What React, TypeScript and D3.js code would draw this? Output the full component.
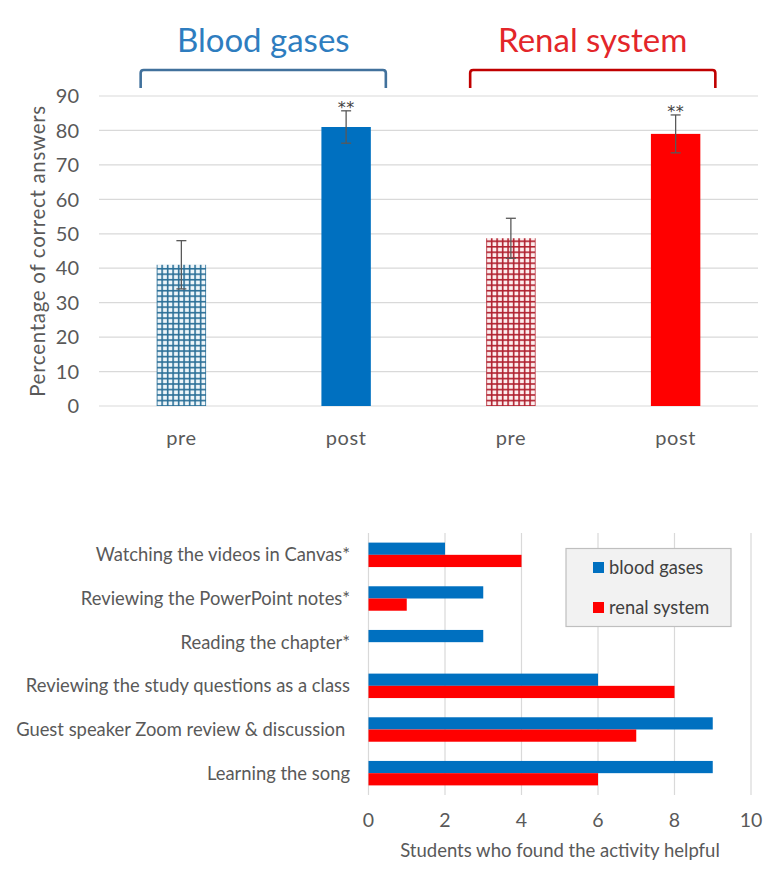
import React from 'react';
import * as d3 from 'd3';

// top chart: pre/post scores
const groups = ['Blood gases', 'Renal system'];
const phases = ['pre', 'post', 'pre', 'post'];
const scoreMeans = [41, 81, 48.7, 79];
const scoreErrors = [7, 4.7, 5.8, 5.5];
const significant = [false, true, false, true];
const yTicks = [0, 10, 20, 30, 40, 50, 60, 70, 80, 90];

// bottom chart: helpful activities
const activities = [
  'Watching the videos in Canvas*',
  'Reviewing the PowerPoint notes*',
  'Reading the chapter*',
  'Reviewing the study questions as a class',
  'Guest speaker Zoom review & discussion ',
  'Learning the song',
];
const seriesNames = ['blood gases', 'renal system'];
const bloodCounts = [2, 3, 3, 6, 9, 9];
const renalCounts = [4, 1, 0, 8, 7, 6];
const xTicks = [0, 2, 4, 6, 8, 10];

const FONT = 'Lato, "Open Sans", sans-serif';
const GRAY = '#595959';
const GRID = '#d9d9d9';
const BLUE = '#0070c0';
const RED = '#ff0000';

const TopChart: React.FC = () => {
  const ids = phases.map((_, i) => String(i));
  const x = d3.scaleBand<string>().domain(ids).range([99, 758]).paddingInner(0.7).paddingOuter(0.35);
  const y = d3.scaleLinear().domain([0, 90]).range([406, 96]);
  const bw = x.bandwidth();
  const cell = bw / 9;
  const fills = ['url(#gridBlue)', BLUE, 'url(#gridRed)', RED];
  const groupColors = ['#2e7dbf', '#e3262a'];
  const bracketColors = ['#41719c', '#c00000'];

  return (
    <g>
      <defs>
        {[
          { id: 'gridBlue', color: '#2a6f97', bg: '#eef6fa', i: 0 },
          { id: 'gridRed', color: '#b0202e', bg: '#fdeeee', i: 2 },
        ].map((p) => (
          <pattern
            key={p.id}
            id={p.id}
            patternUnits="userSpaceOnUse"
            width={cell}
            height={cell}
            x={(x(ids[p.i]) ?? 0) - 0.8}
            y={y(0) - 0.8}
          >
            <rect width={cell} height={cell} fill={p.bg} />
            <rect width={1.6} height={cell} fill={p.color} />
            <rect width={cell} height={1.6} fill={p.color} />
          </pattern>
        ))}
      </defs>

      {yTicks.map((t) => (
        <g key={t}>
          <line x1={99} x2={758} y1={y(t)} y2={y(t)} stroke={GRID} strokeWidth={1.2} />
          <text x={79} y={y(t)} dy="0.36em" textAnchor="end" fontSize={20} fill={GRAY}>
            {t}
          </text>
        </g>
      ))}

      <text
        transform={`translate(45,${(y(0) + y(90)) / 2}) rotate(-90)`}
        textAnchor="middle"
        fontSize={20.5}
        fill={GRAY}
        letterSpacing={0.7}
      >
        Percentage of correct answers
      </text>

      {scoreMeans.map((v, i) => {
        const x0 = x(ids[i]) ?? 0;
        const cx = x0 + bw / 2;
        const top = y(v + scoreErrors[i]);
        const bot = y(v - scoreErrors[i]);
        return (
          <g key={i}>
            <rect x={x0} y={y(v)} width={bw} height={y(0) - y(v)} fill={fills[i]} />
            <line x1={cx} x2={cx} y1={top} y2={bot} stroke={GRAY} strokeWidth={1.3} />
            <line x1={cx - 5} x2={cx + 5} y1={top} y2={top} stroke={GRAY} strokeWidth={1.3} />
            <line x1={cx - 5} x2={cx + 5} y1={bot} y2={bot} stroke={GRAY} strokeWidth={1.3} />
            {significant[i] && (
              <text
                x={cx}
                y={top + 2}
                textAnchor="middle"
                fontSize={16}
                fontFamily='"DejaVu Sans", sans-serif'
                letterSpacing={0.5}
                fill="#404040"
              >
                **
              </text>
            )}
            <text x={cx} y={445} textAnchor="middle" fontSize={20} fill={GRAY} letterSpacing={0.6}>
              {phases[i]}
            </text>
          </g>
        );
      })}

      {groups.map((g, gi) => {
        const left = (x(ids[gi * 2]) ?? 0) - 16;
        const right = (x(ids[gi * 2 + 1]) ?? 0) + bw + 15;
        const mid = (left + right) / 2;
        return (
          <g key={g}>
            <path
              d={`M${left},88 L${left},73 Q${left},70 ${left + 3},70 L${right - 3},70 Q${right},70 ${right},73 L${right},88`}
              fill="none"
              stroke={bracketColors[gi]}
              strokeWidth={2.6}
            />
            <text x={mid} y={52} textAnchor="middle" fontSize={33} fill={groupColors[gi]}>
              {g}
            </text>
          </g>
        );
      })}
    </g>
  );
};

const BottomChart: React.FC = () => {
  const x = d3.scaleLinear().domain([0, 10]).range([368.5, 751]);
  const y = d3.scaleBand<string>().domain(activities).range([533, 795]).paddingInner(0.44).paddingOuter(0.22);
  const sub = d3.scaleBand<string>().domain(seriesNames).range([0, y.bandwidth()]);
  const series = [bloodCounts, renalCounts];
  const colors = [BLUE, RED];

  return (
    <g>
      {xTicks.map((t) => (
        <g key={t}>
          <line x1={x(t)} x2={x(t)} y1={533} y2={795} stroke={GRID} strokeWidth={1.2} />
          <text x={x(t)} y={827} textAnchor="middle" fontSize={19.5} fill={GRAY}>
            {t}
          </text>
        </g>
      ))}

      {activities.map((a, i) => (
        <g key={a}>
          <text
            x={350}
            y={(y(a) ?? 0) + y.bandwidth() / 2}
            dy="0.35em"
            textAnchor="end"
            fontSize={18.4}
            fill={GRAY}
            style={{ whiteSpace: 'pre' }}
          >
            {a}
          </text>
          {series.map((vals, si) =>
            vals[i] > 0 ? (
              <rect
                key={si}
                x={x(0)}
                y={(y(a) ?? 0) + (sub(seriesNames[si]) ?? 0)}
                width={x(vals[i]) - x(0)}
                height={sub.bandwidth()}
                fill={colors[si]}
              />
            ) : null
          )}
        </g>
      ))}

      <text x={560} y={857} textAnchor="middle" fontSize={18.5} fill={GRAY}>
        Students who found the activity helpful
      </text>

      <g>
        <rect x={566} y={548.5} width={165} height={78} fill="#f2f2f2" stroke="#bfbfbf" strokeWidth={1.2} />
        {seriesNames.map((s, si) => (
          <g key={s} transform={`translate(593,${562 + si * 40})`}>
            <rect width={11} height={11} fill={colors[si]} />
            <text x={16} y={5.5} dy="0.35em" fontSize={18.3} fill="#404040">
              {s}
            </text>
          </g>
        ))}
      </g>
    </g>
  );
};

const App: React.FC = () => (
  <svg
    width={776}
    height={876}
    style={{ position: 'absolute', left: 0, top: 0, background: '#fff' }}
    fontFamily={FONT}
  >
    <TopChart />
    <BottomChart />
  </svg>
);

export default App;
